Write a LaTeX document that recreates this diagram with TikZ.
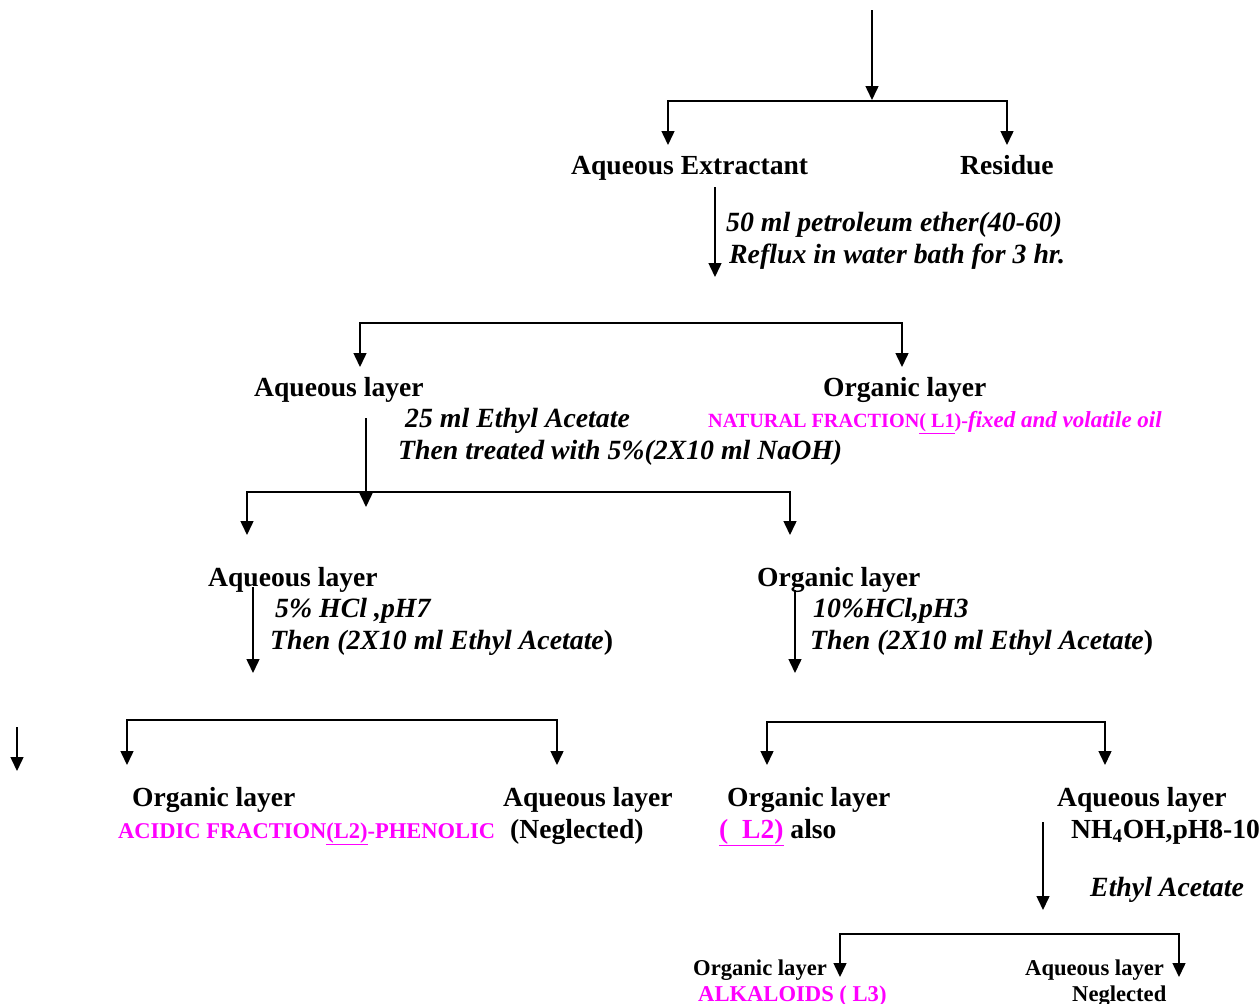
\documentclass[tikz,border=0pt]{standalone}
\usepackage{fontspec}
\setmainfont{Liberation Serif}
\usetikzlibrary{arrows.meta}
\definecolor{fraction}{RGB}{255,0,255}
\tikzset{
    lbl/.style={font=\fontsize{27.6}{32}\selectfont\bfseries, anchor=base west, inner sep=0pt},
    note/.style={font=\fontsize{27.8}{32}\selectfont\bfseries\itshape, anchor=base west, inner sep=0pt},
    smalllbl/.style={font=\fontsize{22.6}{26}\selectfont\bfseries, anchor=base west, inner sep=0pt},
    fracnote/.style={text=fraction},
    arr/.style={line width=1.5pt, -{Triangle[length=14pt,width=13pt]}},
    split/.style={line width=1.5pt, {Triangle[length=14pt,width=13pt]}-{Triangle[length=14pt,width=13pt]}}
}
\begin{document}
\begin{tikzpicture}[x=1pt, y=-1pt]
    \useasboundingbox (0,0) rectangle (1259,1004);
    % feed arrow and first split
    \coordinate (feed) at (872,10);
    \coordinate (feedend) at (872,100);
    \draw[arr] (feed) -- (feedend);
    \coordinate (s1l) at (668,145);
    \coordinate (b1r) at (1007,101);
    \coordinate (s1r) at (1007,145);
    \draw[split] (s1l) |- (b1r) -- (s1r);
    \node[lbl] (aqext) at (571,174) {Aqueous Extractant};
    \node[lbl] (residue) at (960,174) {Residue};
    % petroleum ether step
    \coordinate (pe1) at (715,187);
    \coordinate (pe2) at (715,277);
    \draw[arr] (pe1) -- (pe2);
    \node[note] (pet) at (726,231) {50 ml petroleum ether(40-60)};
    \node[note] (reflux) at (729,263) {Reflux in water bath for 3 hr.};
    % second split
    \coordinate (s2l) at (360,367);
    \coordinate (b2r) at (902,323);
    \coordinate (s2r) at (902,367);
    \draw[split] (s2l) |- (b2r) -- (s2r);
    \node[lbl] (aq1) at (254,396) {Aqueous layer};
    \node[lbl] (org1) at (823,396) {Organic layer};
    \node[note] (etac1) at (405,427) {25 ml Ethyl Acetate};
    \node[note] (naoh) at (398,459) {Then treated with 5\%(2X10 ml NaOH)};
    \node[anchor=base west, inner sep=0pt, fracnote, font=\fontsize{20.2}{24}\selectfont\bfseries] (l1) at (708,427)
        {NATURAL FRACTION\underline{( L1})-{\fontsize{23}{26}\selectfont\itshape fixed and volatile oil}};
    % NaOH step and third split
    \coordinate (na1) at (366,418);
    \coordinate (na2) at (366,507);
    \draw[arr] (na1) -- (na2);
    \coordinate (s3l) at (247,535);
    \coordinate (b3r) at (790,492);
    \coordinate (s3r) at (790,535);
    \draw[split] (s3l) |- (b3r) -- (s3r);
    \node[lbl] (aq2) at (208,586) {Aqueous layer};
    \node[lbl] (org2) at (757,586) {Organic layer};
    % acid steps
    \coordinate (hcl1a) at (253,587);
    \coordinate (hcl1b) at (253,673);
    \draw[arr] (hcl1a) -- (hcl1b);
    \node[note] (ph7) at (275,617) {5\% HCl ,pH7};
    \node[note] (etac2) at (270,649) {Then (2X10 ml Ethyl Acetate\upshape)};
    \coordinate (hcl2a) at (795,590);
    \coordinate (hcl2b) at (795,673);
    \draw[arr] (hcl2a) -- (hcl2b);
    \node[note] (ph3) at (813,617) {10\%HCl,pH3};
    \node[note] (etac3) at (810,649) {Then (2X10 ml Ethyl Acetate\upshape)};
    % lone arrow on the left
    \coordinate (lone1) at (17,727);
    \coordinate (lone2) at (17,771);
    \draw[arr] (lone1) -- (lone2);
    % fourth split
    \coordinate (s4l) at (127,765);
    \coordinate (b4r) at (557,720);
    \coordinate (s4r) at (557,765);
    \draw[split] (s4l) |- (b4r) -- (s4r);
    \node[lbl] (org3) at (132,806) {Organic layer};
    \node[lbl] (aq3) at (503,806) {Aqueous layer};
    \node[anchor=base west, inner sep=0pt, fracnote, font=\fontsize{22.5}{26}\selectfont\bfseries] (l2) at (118,838)
        {ACIDIC FRACTION\underline{(L2)}-PHENOLIC};
    \node[lbl] (negl1) at (510,838) {(Neglected)};
    % fifth split
    \coordinate (s5l) at (767,765);
    \coordinate (b5r) at (1105,722);
    \coordinate (s5r) at (1105,765);
    \draw[split] (s5l) |- (b5r) -- (s5r);
    \node[lbl] (org4) at (727,806) {Organic layer};
    \node[lbl] (aq4) at (1057,806) {Aqueous layer};
    \node[lbl] (l2also) at (719,838) {\textcolor{fraction}{\underline{(\ \ L2)}} also};
    \node[lbl] (nh4oh) at (1071,838) {NH\textsubscript{4}OH,pH8-10};
    % ammonia step and last split
    \coordinate (am1) at (1043,822);
    \coordinate (am2) at (1043,910);
    \draw[arr] (am1) -- (am2);
    \node[note] (etac4) at (1090,896) {Ethyl Acetate};
    \coordinate (s6l) at (840,977);
    \coordinate (b6r) at (1179,934);
    \coordinate (s6r) at (1179,977);
    \draw[split] (s6l) |- (b6r) -- (s6r);
    \node[smalllbl] (org5) at (693,975) {Organic layer};
    \node[smalllbl] (aq5) at (1025,975) {Aqueous layer};
    \node[smalllbl, fracnote] (l3) at (698,1001) {ALKALOIDS \underline{( L3)}};
    \node[smalllbl] (negl2) at (1072,1001) {Neglected};
\end{tikzpicture}
\end{document}
